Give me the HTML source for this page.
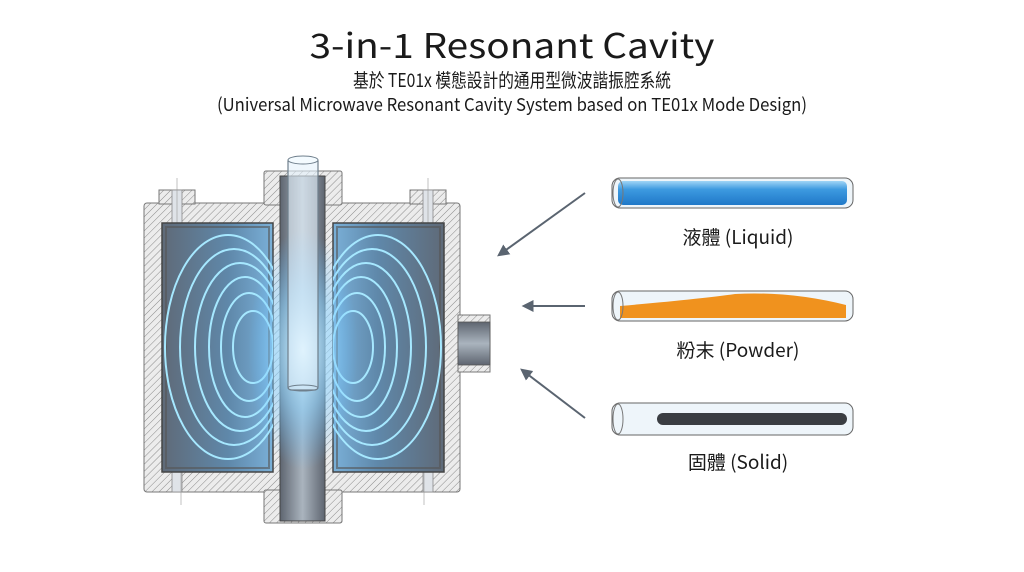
<!DOCTYPE html>
<html><head><meta charset="utf-8"><style>
html,body{margin:0;padding:0;background:#fff;}
svg{display:block;}
text{font-family:"Noto Sans CJK TC","Liberation Sans",sans-serif;fill:#1a1a1a;}
</style></head><body>
<svg width="1024" height="572" viewBox="0 0 1024 572" xmlns="http://www.w3.org/2000/svg">
<defs>
<pattern id="h" width="5" height="5" patternUnits="userSpaceOnUse" patternTransform="rotate(45)">
<rect width="5" height="5" fill="#ececec"/><line x1="0" y1="0" x2="0" y2="5" stroke="#8a8a8a" stroke-width="1"/>
</pattern>
<linearGradient id="ch" x1="0" y1="0" x2="1" y2="0">
<stop offset="0" stop-color="#5f6a78"/><stop offset="0.6" stop-color="#5f88aa"/><stop offset="1" stop-color="#7ab0d8"/>
</linearGradient>
<linearGradient id="chr" x1="1" y1="0" x2="0" y2="0">
<stop offset="0" stop-color="#5f6a78"/><stop offset="0.6" stop-color="#5f88aa"/><stop offset="1" stop-color="#7ab0d8"/>
</linearGradient>
<linearGradient id="bore" x1="0" y1="0" x2="1" y2="0">
<stop offset="0" stop-color="#5e6570"/><stop offset="0.5" stop-color="#aab4be"/><stop offset="1" stop-color="#5e6570"/>
</linearGradient>
<linearGradient id="boreV" x1="0" y1="0" x2="0" y2="1">
<stop offset="0" stop-color="#5e6570"/><stop offset="0.5" stop-color="#aab4be"/><stop offset="1" stop-color="#5e6570"/>
</linearGradient>
<radialGradient id="glow" cx="0.5" cy="0.5" r="0.5">
<stop offset="0" stop-color="#d8f4ff" stop-opacity="1"/><stop offset="0.5" stop-color="#8fd4ff" stop-opacity="0.6"/><stop offset="1" stop-color="#5ab8ff" stop-opacity="0"/>
</radialGradient>
<linearGradient id="liq" x1="0" y1="0" x2="0" y2="1">
<stop offset="0" stop-color="#9fd4f6"/><stop offset="0.35" stop-color="#3d9ae0"/><stop offset="1" stop-color="#1f78c8"/>
</linearGradient>
<clipPath id="cl"><rect x="162" y="223" width="111" height="249"/></clipPath>
<clipPath id="cr"><rect x="333" y="223" width="111" height="249"/></clipPath>
<marker id="ar" viewBox="0 0 10 10" refX="8" refY="5" markerWidth="6" markerHeight="6" orient="auto"><path d="M0,0 L10,5 L0,10 Z" fill="#5a6470"/></marker>
</defs>

<text x="512" y="58" text-anchor="middle" font-size="34" textLength="405" lengthAdjust="spacingAndGlyphs">3-in-1 Resonant Cavity</text>
<text x="512" y="87" text-anchor="middle" font-size="19" textLength="318" lengthAdjust="spacingAndGlyphs">基於 TE01x 模態設計的通用型微波諧振腔系統</text>
<text x="512" y="111" text-anchor="middle" font-size="18" textLength="590" lengthAdjust="spacingAndGlyphs">(Universal Microwave Resonant Cavity System based on TE01x Mode Design)</text>

<rect x="144" y="203" width="316" height="289" rx="3" fill="url(#h)" stroke="#777" stroke-width="1"/>
<rect x="264" y="171" width="78" height="34" rx="2" fill="url(#h)" stroke="#777"/>
<rect x="264" y="490" width="78" height="33" rx="2" fill="url(#h)" stroke="#777"/>
<rect x="159" y="190" width="36" height="14" fill="url(#h)" stroke="#777"/>
<rect x="410" y="190" width="36" height="14" fill="url(#h)" stroke="#777"/>
<rect x="458" y="315" width="32" height="57" fill="url(#h)" stroke="#777"/>
<rect x="172" y="190" width="10" height="33" fill="#dfe3e8" stroke="#888" stroke-width="0.8"/>
<rect x="423" y="190" width="10" height="33" fill="#dfe3e8" stroke="#888" stroke-width="0.8"/>
<rect x="172" y="472" width="10" height="20" fill="#dfe3e8" stroke="#888" stroke-width="0.8"/>
<rect x="423" y="472" width="10" height="20" fill="#dfe3e8" stroke="#888" stroke-width="0.8"/>
<line x1="177" y1="178" x2="177" y2="240" stroke="#999" stroke-width="0.6"/>
<line x1="428" y1="178" x2="428" y2="240" stroke="#999" stroke-width="0.6"/>
<line x1="181" y1="455" x2="181" y2="505" stroke="#999" stroke-width="0.6"/>
<line x1="424" y1="455" x2="424" y2="505" stroke="#999" stroke-width="0.6"/>
<rect x="162" y="223" width="111" height="249" fill="url(#ch)" stroke="#444" stroke-width="1.5"/>
<rect x="333" y="223" width="111" height="249" fill="url(#chr)" stroke="#444" stroke-width="1.5"/>
<rect x="166" y="227" width="103" height="241" fill="none" stroke="#555" stroke-width="2" opacity="0.6"/>
<rect x="337" y="227" width="103" height="241" fill="none" stroke="#555" stroke-width="2" opacity="0.6"/>
<rect x="280" y="176" width="45" height="345" fill="url(#bore)"/>
<rect x="280" y="176" width="45" height="345" fill="none" stroke="#444" stroke-width="1"/>
<g clip-path="url(#cl)" fill="none" stroke="#a6e8ff" stroke-width="2">
<ellipse cx="228" cy="347" rx="63" ry="112"/>
<ellipse cx="234" cy="347" rx="54" ry="98"/>
<ellipse cx="240" cy="347" rx="45" ry="84"/>
<ellipse cx="245" cy="347" rx="36" ry="70"/>
<ellipse cx="249" cy="347" rx="28" ry="54"/>
<ellipse cx="253" cy="347" rx="20" ry="36"/>
</g>
<g clip-path="url(#cr)" fill="none" stroke="#a6e8ff" stroke-width="2">
<ellipse cx="378" cy="347" rx="63" ry="112"/>
<ellipse cx="372" cy="347" rx="54" ry="98"/>
<ellipse cx="366" cy="347" rx="45" ry="84"/>
<ellipse cx="361" cy="347" rx="36" ry="70"/>
<ellipse cx="357" cy="347" rx="28" ry="54"/>
<ellipse cx="353" cy="347" rx="20" ry="36"/>
</g>
<ellipse cx="303" cy="350" rx="55" ry="120" fill="url(#glow)"/>
<rect x="288" y="158" width="30" height="232" rx="3" fill="#e4f2fb" fill-opacity="0.6" stroke="#6f7f8c" stroke-width="1.2"/>
<ellipse cx="303" cy="160" rx="15" ry="4" fill="#f4fbff" stroke="#6f7f8c"/>
<ellipse cx="303" cy="388" rx="15" ry="3" fill="none" stroke="#6f7f8c"/>
<rect x="458" y="322" width="32" height="43" fill="url(#boreV)" stroke="#555" stroke-width="0.8"/>

<g stroke="#5a6470" stroke-width="2" fill="none" marker-end="url(#ar)">
<line x1="585" y1="193" x2="499" y2="255"/>
<line x1="585" y1="306" x2="524" y2="306"/>
<line x1="585" y1="418" x2="522" y2="370"/>
</g>

<rect x="612" y="178" width="241" height="30" rx="8" fill="#eef5fa" stroke="#666"/>
<rect x="618" y="181" width="229" height="24" rx="5" fill="url(#liq)"/>
<ellipse cx="618" cy="193" rx="5" ry="14" fill="none" stroke="#777"/>

<rect x="612" y="291" width="241" height="30" rx="8" fill="#eef5fa" stroke="#666"/>
<path d="M620,306 Q700,299 735,294 Q790,291 846,305 L846,318 L620,318 Z" fill="#f0921e"/>
<ellipse cx="618" cy="306" rx="5" ry="14" fill="none" stroke="#777"/>

<rect x="612" y="403" width="241" height="32" rx="8" fill="#eef5fa" stroke="#666"/>
<rect x="657" y="413" width="190" height="12" rx="6" fill="#3a3d42"/>
<ellipse cx="618" cy="419" rx="5" ry="15" fill="none" stroke="#777"/>

<text x="738" y="244" text-anchor="middle" font-size="19">液體 (Liquid)</text>
<text x="738" y="357" text-anchor="middle" font-size="19">粉末 (Powder)</text>
<text x="738" y="469" text-anchor="middle" font-size="19">固體 (Solid)</text>
</svg>
</body></html>
